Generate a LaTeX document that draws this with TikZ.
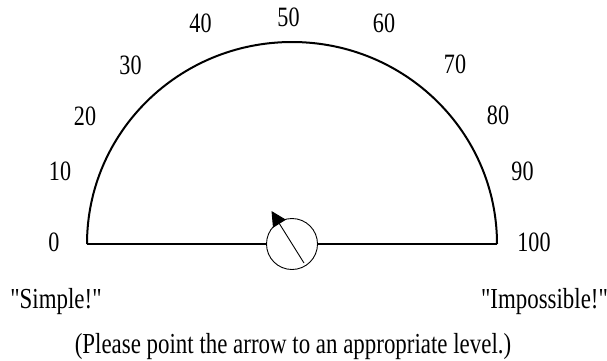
\documentclass[tikz,border=0pt]{standalone}
\usepackage{fontspec}
\setmainfont{Liberation Serif}[FakeStretch=0.79, Ligatures=TeXOff]
\usetikzlibrary{arrows.meta}
\begin{document}
\begin{tikzpicture}[x=1pt,y=-1pt,
  scalelabel/.style={font=\fontsize{28}{30}\selectfont},
  endlabel/.style={font=\fontsize{29}{31}\selectfont, anchor=base}]
  \useasboundingbox (0,0) rectangle (607,360);
  \coordinate (L) at (87,244);
  \coordinate (R) at (497,244);
  \coordinate (D) at (292,244);
  % gauge outline
  \draw[line width=2pt] (L) arc[start angle=180, end angle=0, x radius=205, y radius=-202];
  \node[circle, draw, line width=0.9pt, fill=white, minimum size=51pt, inner sep=0pt] (dial) at (D) {};
  \draw[line width=2pt] (L) -- (dial.west);
  \draw[line width=2pt] (dial.east) -- (R);
  % needle
  \coordinate (tail) at (304,263);
  \coordinate (tip) at (271.5,211);
  \draw[line width=0.9pt, -{Triangle[length=15pt,width=15pt]}] (tail) -- (tip);
  % scale numbers
  \foreach \val/\px/\py in {0/54/242.5, 10/60/171, 20/85/116, 30/130.5/65, 40/200.5/23,
                            50/288.5/17, 60/384/23, 70/455/64.5, 80/498/115, 90/522.5/171, 100/534/242.5}
    \node[scalelabel] (n\val) at (\px,\py) {\val};
  \node[endlabel] (simple) at (56,308) {"Simple!"};
  \node[endlabel] (hard) at (544.5,308) {"Impossible!"};
  \node[endlabel] (note) at (293,353) {(Please point the arrow to an appropriate level.)};
\end{tikzpicture}
\end{document}
